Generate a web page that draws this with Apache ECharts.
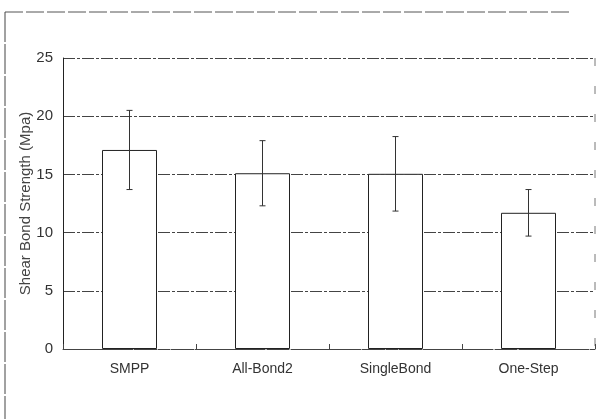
<!DOCTYPE html>
<html><head><meta charset="utf-8">
<script src="https://cdn.jsdelivr.net/npm/echarts@6/dist/echarts.min.js"></script>
<style>html,body{margin:0;padding:0;background:#fff}#c{width:607px;height:419px}</style>
</head><body><div id="c"></div>
<script>
var categories = ['SMPP', 'All-Bond2', 'SingleBond', 'One-Step'];
var means = [17.1, 15.1, 15.05, 11.7];
var sds = [3.4, 2.8, 3.2, 2.0];
var yTicks = [0, 5, 10, 15, 20, 25];

var chart = echarts.init(document.getElementById('c'));
var errData = categories.map(function (c, i) { return [i, means[i] - sds[i], means[i] + sds[i]]; });
chart.setOption({
  animation: false,
  backgroundColor: '#fff',
  grid: { left: 63, right: 12, top: 58, bottom: 70, show: false },
  graphic: [
    { type: 'line', shape: { x1: 5, y1: 12, x2: 570, y2: 12 }, style: { stroke: '#555', lineWidth: 1, lineDash: [18, 3] } },
    { type: 'line', shape: { x1: 5, y1: 12, x2: 5, y2: 419 }, style: { stroke: '#444', lineWidth: 1, lineDash: [30, 2] } },
    { type: 'line', shape: { x1: 595, y1: 58, x2: 595, y2: 349 }, style: { stroke: '#777', lineWidth: 1, lineDash: [8, 20] } }
  ],
  xAxis: {
    type: 'category', data: categories,
    axisLine: { show: true, lineStyle: { color: '#444', width: 1, type: [10, 2] } },
    axisTick: { show: true, inside: true, length: 5, lineStyle: { color: '#444' } },
    axisLabel: { color: '#333', fontSize: 14, fontFamily: 'Liberation Sans, Arial', margin: 13 },
    splitLine: { show: false }
  },
  yAxis: {
    type: 'value', min: 0, max: 25, interval: 5,
    name: 'Shear Bond Strength (Mpa)', nameLocation: 'middle', nameGap: 30, nameRotate: 90,
    nameMoveOverlap: false,
    nameTextStyle: { color: '#444', fontSize: 15, fontFamily: 'Liberation Sans, Arial' },
    axisLine: { show: true, lineStyle: { color: '#222', width: 1 } },
    axisTick: { show: false },
    axisLabel: { color: '#333', fontSize: 15, fontFamily: 'Liberation Sans, Arial', margin: 10,
      formatter: function (v) { return yTicks.indexOf(v) >= 0 ? String(v) : ''; } },
    splitLine: { show: true, lineStyle: { color: '#444', width: 1, type: [12, 2, 3, 2] } }
  },
  series: [
    {
      type: 'bar', data: means, barWidth: 55,
      itemStyle: { color: '#fff', borderColor: '#222', borderWidth: 1 },
      z: 2
    },
    {
      type: 'custom', data: errData, z: 3,
      renderItem: function (params, api) {
        var x = api.value(0);
        var lo = api.coord([x, api.value(1)]);
        var hi = api.coord([x, api.value(2)]);
        var w = 3;
        var st = { stroke: '#333', lineWidth: 1 };
        return { type: 'group', children: [
          { type: 'line', shape: { x1: lo[0], y1: lo[1], x2: hi[0], y2: hi[1] }, style: st },
          { type: 'line', shape: { x1: hi[0] - w, y1: hi[1], x2: hi[0] + w, y2: hi[1] }, style: st },
          { type: 'line', shape: { x1: lo[0] - w, y1: lo[1], x2: lo[0] + w, y2: lo[1] }, style: st }
        ] };
      }
    }
  ]
});
</script></body></html>
